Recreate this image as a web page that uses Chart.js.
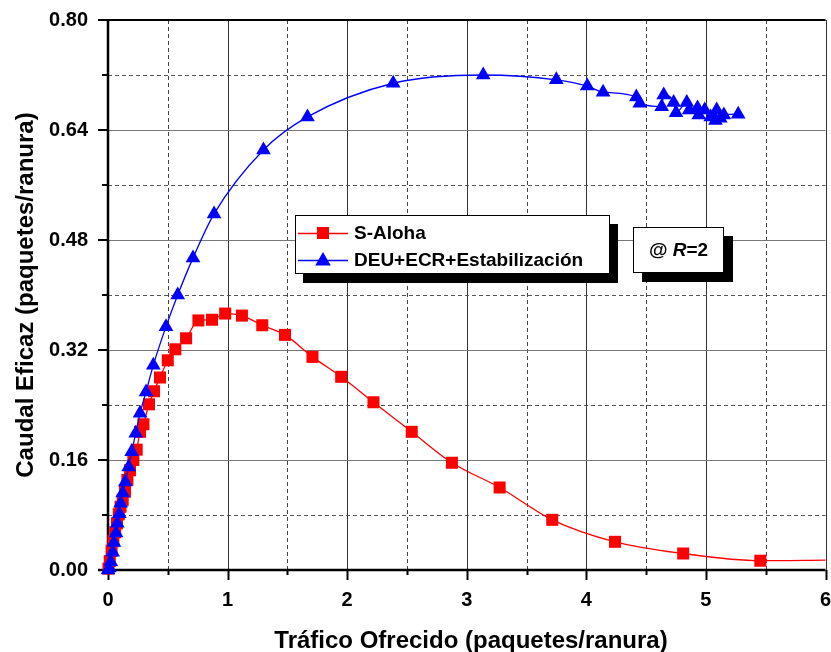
<!DOCTYPE html>
<html lang="es">
<head>
<meta charset="utf-8">
<title>Caudal eficaz frente a tráfico ofrecido</title>
<script src="https://cdn.jsdelivr.net/npm/chart.js@4.4.1/dist/chart.umd.min.js"></script>
<style>
  html, body { margin: 0; padding: 0; background: #fff; overflow: hidden; }
  canvas { display: block; }
</style>
</head>
<body>
<!-- 3 px más ancho que la ventana: Chart.js reserva ~9 px a la derecha para la etiqueta "6" -->
<canvas id="grafico" width="834" height="652"></canvas>
<script>
// S-Aloha: tráfico ofrecido G y caudal eficaz S
const alohaG = [0.004, 0.015, 0.030, 0.045, 0.060, 0.075, 0.090, 0.105, 0.123, 0.142, 0.162, 0.184,
                0.212, 0.240, 0.268, 0.296, 0.343, 0.385, 0.435, 0.500, 0.563, 0.653, 0.756, 0.870,
                0.980, 1.120, 1.290, 1.480, 1.710, 1.950, 2.220, 2.540, 2.876, 3.275, 3.715, 4.240,
                4.810, 5.455, 6.000];
const alohaS = [0.002, 0.013, 0.028, 0.042, 0.055, 0.068, 0.081, 0.092, 0.102, 0.114, 0.131, 0.145,
                0.160, 0.175, 0.201, 0.212, 0.241, 0.260, 0.280, 0.305, 0.321, 0.337, 0.363, 0.364,
                0.373, 0.370, 0.356, 0.342, 0.310, 0.281, 0.244, 0.201, 0.156, 0.120, 0.073, 0.041,
                0.024, 0.0135, 0.0145];
// el último punto de S-Aloha sólo prolonga la curva, sin marcador
const alohaSinMarca = [alohaG.length - 1];

// DEU+ECR+Estabilización
const deuG = [0.000, 0.011, 0.023, 0.039, 0.050, 0.067, 0.078, 0.095, 0.106, 0.123, 0.145, 0.173,
              0.198, 0.232, 0.268, 0.318, 0.379, 0.485, 0.583, 0.711, 0.887, 1.300, 1.668, 2.385,
              3.138, 3.749, 4.008, 4.140, 4.418, 4.447, 4.630, 4.647, 4.730, 4.750, 4.840, 4.860,
              4.930, 4.940, 4.990, 5.040, 5.080, 5.090, 5.120, 5.150, 5.270];
const deuS = [0.000, 0.003, 0.012, 0.026, 0.040, 0.054, 0.068, 0.082, 0.097, 0.112, 0.128, 0.150,
              0.172, 0.199, 0.228, 0.259, 0.298, 0.354, 0.400, 0.454, 0.518, 0.611, 0.659, 0.708,
              0.720, 0.713, 0.704, 0.695, 0.688, 0.679, 0.674, 0.691, 0.680, 0.665, 0.680, 0.669,
              0.672, 0.662, 0.669, 0.659, 0.654, 0.669, 0.657, 0.662, 0.663];

const ejeX = { min: 0, max: 6, paso: 0.5 };
const ejeY = { min: 0, max: 0.8, paso: 0.08 };

const ROJO = '#ff0000';
const AZUL = '#0000ff';
const FUENTE = "'Liberation Sans', Arial, Helvetica, sans-serif";

const puntos = (xs, ys) => xs.map((x, i) => ({ x, y: ys[i] }));

// ----------------------------------------------------------------
// Rejilla, ejes y marcas de división
// ----------------------------------------------------------------
const rejilla = {
  id: 'rejilla',
  beforeDatasetsDraw(chart) {
    const { ctx, chartArea: a, scales: { x, y } } = chart;
    ctx.save();
    ctx.lineWidth = 1;

    x.ticks.forEach((t, i) => {
      const px = Math.round(x.getPixelForValue(t.value)) + 0.5;
      const mayor = i % 2 === 0;
      ctx.strokeStyle = mayor ? '#333' : '#444';
      ctx.setLineDash(mayor ? [] : [4, 3]);
      ctx.beginPath(); ctx.moveTo(px, a.top); ctx.lineTo(px, a.bottom); ctx.stroke();
    });
    y.ticks.forEach((t, i) => {
      const py = Math.round(y.getPixelForValue(t.value)) + 0.5;
      const mayor = i % 2 === 0;
      ctx.strokeStyle = mayor ? '#777' : '#555';
      ctx.setLineDash(mayor ? [] : [4, 3]);
      ctx.beginPath(); ctx.moveTo(a.left, py); ctx.lineTo(a.right, py); ctx.stroke();
    });
    ctx.setLineDash([]);

    // marcas hacia fuera
    ctx.strokeStyle = '#000';
    ctx.lineWidth = 2;
    x.ticks.forEach((t, i) => {
      const px = Math.round(x.getPixelForValue(t.value)) + 0.5;
      ctx.beginPath(); ctx.moveTo(px, a.bottom); ctx.lineTo(px, a.bottom + (i % 2 === 0 ? 10 : 5)); ctx.stroke();
    });
    y.ticks.forEach((t, i) => {
      const py = Math.round(y.getPixelForValue(t.value));
      ctx.beginPath(); ctx.moveTo(a.left, py); ctx.lineTo(a.left - (i % 2 === 0 ? 10 : 6), py); ctx.stroke();
    });

    // ejes gruesos y borde superior
    ctx.lineWidth = 2.5;
    ctx.beginPath(); ctx.moveTo(a.left, a.top); ctx.lineTo(a.left, a.bottom); ctx.stroke();
    ctx.beginPath(); ctx.moveTo(a.left - 10, a.bottom); ctx.lineTo(a.right, a.bottom); ctx.stroke();
    ctx.lineWidth = 2;
    ctx.beginPath(); ctx.moveTo(a.left - 10, a.top); ctx.lineTo(a.right, a.top); ctx.stroke();
    ctx.restore();
  },
};

// ----------------------------------------------------------------
// Leyenda, recuadro "@ R=2" y títulos de los ejes
// ----------------------------------------------------------------
function caja(ctx, x0, y0, w, h, dx, dy) {
  ctx.fillStyle = '#000';
  ctx.fillRect(x0 + dx, y0 + dy, w, h);
  ctx.fillStyle = '#fff';
  ctx.fillRect(x0, y0, w, h);
  ctx.strokeStyle = '#000';
  ctx.lineWidth = 1;
  ctx.strokeRect(x0 + 0.5, y0 + 0.5, w - 1, h - 1);
}

function cuadrado(ctx, cx, cy, lado, color) {
  ctx.fillStyle = color;
  ctx.fillRect(cx - lado / 2, cy - lado / 2, lado, lado);
}

function triangulo(ctx, cx, cy, r, color) {
  ctx.fillStyle = color;
  ctx.beginPath();
  ctx.moveTo(cx, cy - r);
  ctx.lineTo(cx + r * Math.sqrt(3) / 2, cy + r / 2);
  ctx.lineTo(cx - r * Math.sqrt(3) / 2, cy + r / 2);
  ctx.closePath();
  ctx.fill();
}

const anotaciones = {
  id: 'anotaciones',
  afterDraw(chart) {
    const { ctx } = chart;
    ctx.save();

    // leyenda
    caja(ctx, 295, 215, 315, 59, 8, 9);
    const filas = [
      { y: 233, color: ROJO, texto: 'S-Aloha', marca: 'cuadrado' },
      { y: 260, color: AZUL, texto: 'DEU+ECR+Estabilización', marca: 'triangulo' },
    ];
    filas.forEach(f => {
      ctx.strokeStyle = f.color;
      ctx.lineWidth = 1.3;
      ctx.beginPath(); ctx.moveTo(298, f.y + 0.5); ctx.lineTo(348, f.y + 0.5); ctx.stroke();
      if (f.marca === 'cuadrado') cuadrado(ctx, 323, f.y, 12, f.color);
      else triangulo(ctx, 323, f.y + 1, 9, f.color);
      ctx.fillStyle = '#000';
      ctx.font = `bold 19px ${FUENTE}`;
      ctx.textAlign = 'left';
      ctx.textBaseline = 'middle';
      ctx.fillText(f.texto, 354, f.y + 1);
    });

    // recuadro del parámetro R
    caja(ctx, 633, 227, 91, 46, 9, 9);
    const partes = [
      { t: '@ ', f: `bold 19px ${FUENTE}` },
      { t: 'R', f: `italic bold 19px ${FUENTE}` },
      { t: '=2', f: `bold 19px ${FUENTE}` },
    ];
    let ancho = 0;
    partes.forEach(p => { ctx.font = p.f; p.w = ctx.measureText(p.t).width; ancho += p.w; });
    let px = 678.5 - ancho / 2;
    ctx.fillStyle = '#000';
    ctx.textAlign = 'left';
    ctx.textBaseline = 'middle';
    partes.forEach(p => { ctx.font = p.f; ctx.fillText(p.t, px, 251); px += p.w; });

    // títulos de los ejes
    ctx.font = `bold 24px ${FUENTE}`;
    ctx.textAlign = 'center';
    ctx.textBaseline = 'alphabetic';
    ctx.fillText('Tráfico Ofrecido (paquetes/ranura)', 471, 648);
    ctx.translate(33, 295);
    ctx.rotate(-Math.PI / 2);
    ctx.fillText('Caudal Eficaz (paquetes/ranura)', 0, 0);
    ctx.restore();
  },
};

// ----------------------------------------------------------------
// Gráfico
// ----------------------------------------------------------------
const fuenteTicks = { family: FUENTE, size: 20, weight: 'bold' };

new Chart(document.getElementById('grafico'), {
  type: 'scatter',
  data: {
    datasets: [
      {
        label: 'DEU+ECR+Estabilización',
        data: puntos(deuG, deuS),
        showLine: true,
        borderColor: AZUL,
        backgroundColor: AZUL,
        borderWidth: 1.3,
        pointStyle: 'triangle',
        pointRadius: 8.5,
        pointBorderWidth: 0,
        cubicInterpolationMode: 'monotone',
        clip: false,
        order: 0,
      },
      {
        label: 'S-Aloha',
        data: puntos(alohaG, alohaS),
        showLine: true,
        borderColor: ROJO,
        backgroundColor: ROJO,
        borderWidth: 1.3,
        pointStyle: 'rect',
        pointRadius: ctx => alohaSinMarca.includes(ctx.dataIndex) ? 0 : 8.5,
        pointBorderWidth: 0,
        cubicInterpolationMode: 'monotone',
        clip: false,
        order: 1,
      },
    ],
  },
  options: {
    responsive: false,
    animation: false,
    devicePixelRatio: 1,
    layout: { padding: { top: 20, right: 3, left: 0, bottom: 0 } },
    plugins: { legend: { display: false }, tooltip: { enabled: false } },
    scales: {
      x: {
        type: 'linear',
        min: ejeX.min, max: ejeX.max,
        afterFit: s => { s.height = 82; s.paddingLeft = 0; s.paddingRight = 0; },
        grid: { display: false },
        border: { display: false },
        ticks: {
          stepSize: ejeX.paso,
          autoSkip: false,
          maxRotation: 0,
          padding: 10,
          color: '#000',
          font: fuenteTicks,
          callback: v => Number.isInteger(v) ? String(v) : '',
        },
      },
      y: {
        type: 'linear',
        min: ejeY.min, max: ejeY.max,
        afterFit: s => { s.width = 108; s.paddingTop = 0; s.paddingBottom = 0; },
        grid: { display: false },
        border: { display: false },
        ticks: {
          stepSize: ejeY.paso,
          autoSkip: false,
          padding: 12,
          color: '#000',
          font: fuenteTicks,
          callback: (v, i) => i % 2 === 0 ? v.toFixed(2) : '',
        },
      },
    },
  },
  plugins: [rejilla, anotaciones],
});
</script>
</body>
</html>
